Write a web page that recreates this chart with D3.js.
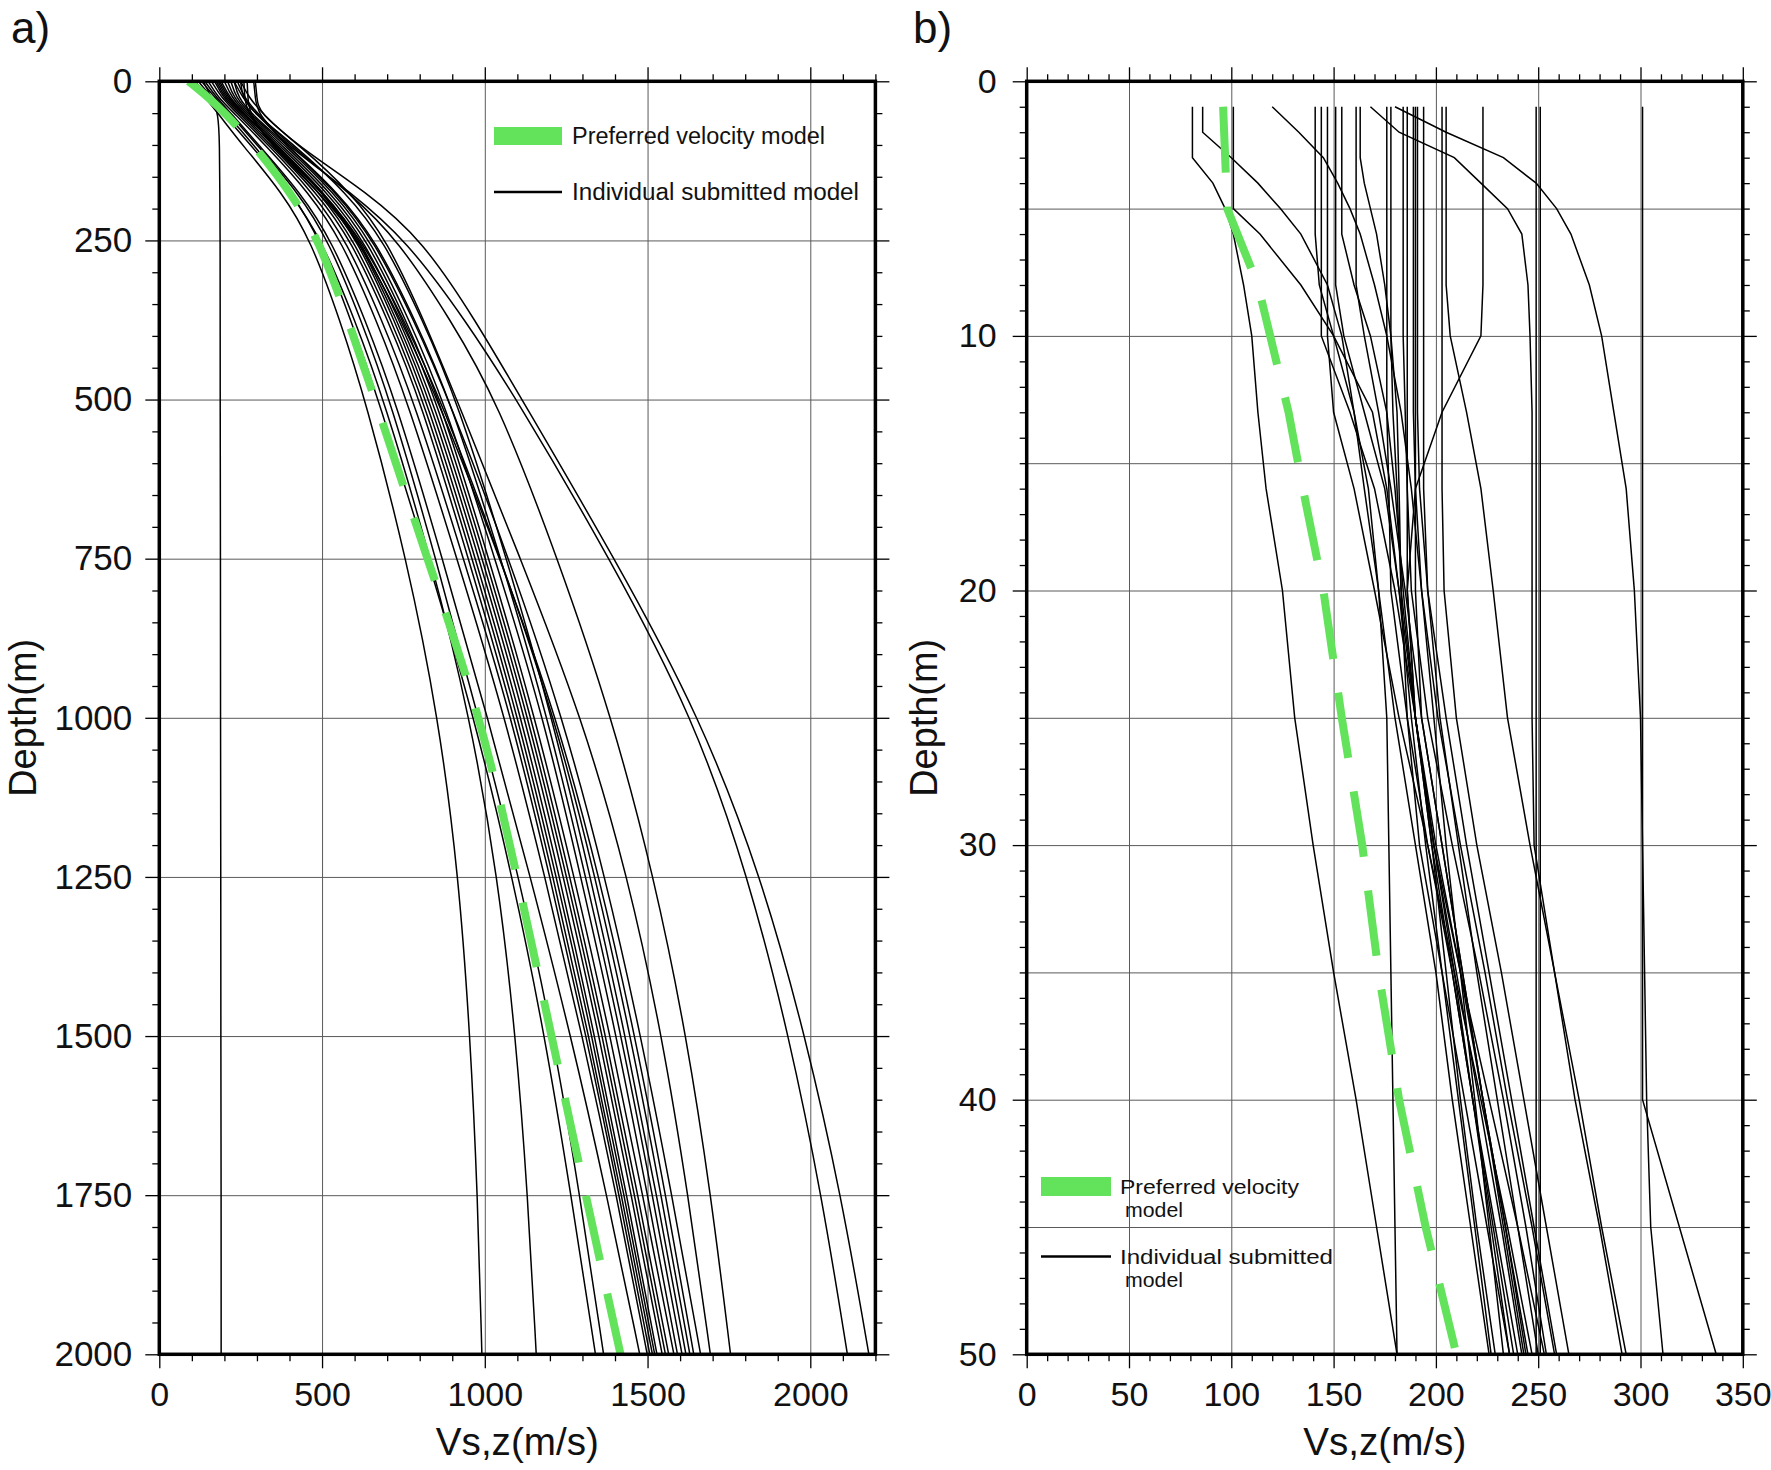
<!DOCTYPE html>
<html><head><meta charset="utf-8">
<script src="https://cdn.jsdelivr.net/npm/d3@7"></script>
<style>body{margin:0;background:#fff}svg{display:block}</style>
</head><body>
<svg id="c" width="1771" height="1470"></svg>
<script>
// ---------- Panel a data (depth in m, Vs in m/s) ----------
const depthsA = [0, 25, 50, 100, 175, 250, 375, 500, 750, 1000, 1250, 1500, 1750, 2000];
const preferredA = [90, 150, 203, 290, 405, 491, 580, 663, 823, 989, 1100, 1205, 1310, 1417];
const modelsA = [
  [135, 160, 182, 185, 186, 187, 187, 187, 188, 188, 189, 189, 190, 190],
  [100, 140, 180, 255, 378, 466, 555, 633, 760, 858, 920, 955, 978, 991],
  [110, 150, 195, 280, 405, 500, 601, 690, 835, 955, 1040, 1095, 1132, 1158],
  [120, 160, 205, 290, 408, 495, 589, 673, 825, 968, 1085, 1185, 1265, 1340],
  [130, 170, 215, 300, 427, 520, 620, 709, 850, 981, 1105, 1210, 1292, 1365],
  [140, 175, 220, 305, 434, 530, 633, 725, 870, 1009, 1140, 1265, 1375, 1476],
  [150, 180, 230, 325, 460, 560, 667, 761, 915, 1063, 1185, 1300, 1405, 1499],
  [160, 190, 238, 335, 472, 575, 684, 781, 935, 1083, 1200, 1312, 1413, 1507],
  [170, 195, 245, 342, 484, 590, 702, 802, 950, 1093, 1210, 1320, 1420, 1515],
  [175, 200, 250, 350, 494, 600, 712, 812, 962, 1103, 1220, 1330, 1428, 1522],
  [180, 205, 255, 358, 503, 610, 722, 822, 972, 1113, 1230, 1338, 1436, 1529],
  [185, 210, 258, 360, 506, 615, 730, 832, 983, 1124, 1242, 1352, 1450, 1545],
  [190, 215, 260, 360, 508, 620, 738, 842, 993, 1134, 1252, 1362, 1460, 1555],
  [200, 222, 265, 368, 518, 630, 748, 852, 1003, 1144, 1262, 1372, 1470, 1565],
  [210, 228, 270, 376, 528, 640, 758, 862, 1013, 1155, 1275, 1386, 1485, 1581],
  [220, 235, 275, 385, 538, 650, 768, 873, 1032, 1181, 1295, 1405, 1500, 1592],
  [230, 242, 280, 392, 550, 665, 786, 894, 1050, 1194, 1310, 1420, 1515, 1606],
  [250, 255, 290, 415, 575, 690, 809, 914, 1068, 1207, 1325, 1432, 1528, 1618],
  [260, 262, 270, 345, 505, 625, 752, 865, 1050, 1215, 1340, 1448, 1542, 1630],
  [270, 272, 276, 340, 495, 615, 743, 856, 1048, 1222, 1352, 1462, 1556, 1642],
  [290, 295, 300, 390, 545, 660, 782, 890, 1075, 1240, 1370, 1480, 1575, 1663],
  [295, 300, 305, 430, 590, 700, 813, 914, 1110, 1299, 1440, 1545, 1625, 1693],
  [240, 260, 300, 400, 585, 735, 895, 1037, 1225, 1391, 1520, 1620, 1695, 1755],
  [230, 255, 295, 390, 590, 760, 940, 1099, 1385, 1642, 1810, 1935, 2035, 2114],
  [250, 275, 315, 420, 640, 809, 971, 1114, 1400, 1663, 1850, 1985, 2095, 2180]
];
const xTicksA = [0, 500, 1000, 1500, 2000];
const yTicksA = [0, 250, 500, 750, 1000, 1250, 1500, 1750, 2000];

// ---------- Panel b data ----------
const depthsB = [1, 2, 3, 4, 5, 6, 8, 10, 13, 16, 20, 25, 30, 35, 40, 45, 50];
const preferredB = [96, 96.5, 97, 97.5, 98, 103, 113, 119, 128, 135, 145, 154, 164, 172, 182, 195, 210];
const modelsB = [
  [81, 81, 81, 91, 97, 101, 106, 110, 113, 117, 125, 131, 140, 150, 161, 171, 181],
  [86, 86, 100, 113, 124, 134, 147, 154, 160, 165, 172, 180, 190, 200, 208, 217, 226],
  [101, 101, 101, 101, 101, 114, 134, 150, 169, 176, 182, 188, 195, 203, 211, 219, 227],
  [120, 133, 145, 152, 158, 163, 170, 176, 183, 188, 193, 199, 205, 212, 219, 226, 233],
  [141, 141, 141, 141, 141, 141, 143, 150, 160, 167, 172, 176, 177, 178, 179, 180, 181],
  [144, 144, 144, 144, 144, 144, 144, 144, 158, 170, 180, 190, 198, 205, 212, 220, 229],
  [147, 147, 147, 147, 147, 147, 147, 147, 150, 160, 170, 182, 196, 208, 218, 227, 236],
  [151, 151, 151, 151, 151, 151, 151, 155, 165, 175, 182, 190, 198, 208, 218, 229, 240],
  [154, 154, 154, 154, 154, 154, 160, 168, 176, 180, 184, 190, 199, 210, 221, 232, 242],
  [161, 161, 161, 161, 161, 161, 161, 165, 172, 178, 185, 193, 203, 213, 223, 234, 244],
  [163, 163, 163, 165, 168, 171, 175, 178, 181, 182, 183, 186, 192, 203, 214, 225, 236],
  [176, 176, 176, 176, 176, 176, 176, 176, 176, 177, 178, 186, 196, 209, 222, 235, 247],
  [178, 178, 178, 178, 178, 178, 178, 178, 179, 181, 183, 190, 199, 209, 218, 228, 238],
  [184, 184, 184, 184, 184, 184, 184, 184, 185, 186, 188, 196, 208, 221, 233, 244, 254],
  [186, 186, 186, 186, 186, 186, 186, 186, 186, 186, 186, 190, 200, 212, 223, 234, 245],
  [189, 189, 189, 189, 189, 189, 189, 189, 189, 190, 193, 201, 212, 224, 235, 247, 258],
  [190, 190, 190, 190, 190, 190, 190, 190, 190, 190, 190, 193, 203, 213, 223, 233, 243],
  [191, 191, 191, 191, 191, 191, 191, 191, 191, 192, 196, 205, 215, 226, 237, 248, 259],
  [194, 194, 194, 194, 194, 194, 194, 194, 194, 194, 196, 202, 211, 220, 230, 240, 250],
  [203, 203, 203, 203, 203, 203, 203, 203, 203, 203, 204, 210, 220, 232, 243, 254, 265],
  [205, 205, 205, 205, 205, 205, 205, 207, 215, 222, 228, 235, 246, 258, 268, 280, 291],
  [168, 182, 209, 222, 235, 242, 245, 246, 247, 247, 247, 247, 248, 258, 270, 281, 293],
  [180, 205, 233, 249, 259, 266, 275, 281, 287, 293, 297, 300, 301, 302, 303, 305, 311],
  [223, 223, 223, 223, 223, 223, 223, 222, 203, 190, 186, 190, 199, 212, 226, 240, 253],
  [249, 249, 249, 249, 249, 249, 249, 249, 249, 249, 249, 249, 249, 249, 249, 249, 249],
  [251, 251, 251, 251, 251, 251, 251, 251, 251, 251, 251, 251, 251, 251, 251, 251, 251],
  [301, 301, 301, 301, 301, 301, 301, 301, 301, 301, 301, 301, 301, 301, 301, 319, 337]
];
const xTicksB = [0, 50, 100, 150, 200, 250, 300, 350];
const yTicksB = [0, 10, 20, 30, 40, 50];

const panelLabels = ["a)", "b)"];
const xTitle = "Vs,z(m/s)";
const yTitle = "Depth(m)";
const legendA = ["Preferred velocity model", "Individual submitted model"];
const legendB = [["Preferred velocity", "model"], ["Individual submitted", "model"]];

// ---------- drawing ----------
const GREEN = "#63e25b";
const FONT = "'Liberation Sans', Arial, Helvetica, sans-serif";
const svg = d3.select("#c");
svg.append("rect").attr("width", 1771).attr("height", 1470).attr("fill", "#fff");

function range(a, b, s) { const r = []; for (let v = a; v <= b + 1e-9; v += s) r.push(+v.toFixed(6)); return r; }

function panel(cfg) {
  const x = d3.scaleLinear().domain(cfg.xDomain).range([cfg.left, cfg.right]);
  const y = d3.scaleLinear().domain(cfg.yDomain).range([cfg.top, cfg.bottom]);
  const w = cfg.right - cfg.left, h = cfg.bottom - cfg.top;
  const g = svg.append("g");
  const styleGrid = s => { s.select(".domain").remove(); s.selectAll("line").attr("stroke", "#5a5a5a").attr("stroke-width", 1); };
  // grid
  g.append("g").attr("transform", `translate(0,${cfg.top})`)
    .call(d3.axisTop(x).tickValues(cfg.xGrid).tickSize(-h).tickFormat("")).call(styleGrid);
  g.append("g").attr("transform", `translate(${cfg.left},0)`)
    .call(d3.axisLeft(y).tickValues(cfg.yGrid).tickSize(-w).tickFormat("")).call(styleGrid);

  // clip
  const cid = "clip" + cfg.id;
  svg.append("clipPath").attr("id", cid).append("rect")
    .attr("x", cfg.left).attr("y", cfg.top).attr("width", w).attr("height", h);
  const cg = g.append("g").attr("clip-path", `url(#${cid})`);
  const line = d3.line().x(d => x(d[0])).y(d => y(d[1])).curve(cfg.curve);
  const toPts = arr => arr.map((v, i) => [v, cfg.depths[i]]);
  cg.selectAll("path.m").data(cfg.models).join("path").attr("class", "m")
    .attr("d", m => line(toPts(m))).attr("fill", "none").attr("stroke", "#000").attr("stroke-width", 1.5);
  cg.append("path").attr("d", line(toPts(cfg.preferred))).attr("fill", "none")
    .attr("stroke", GREEN).attr("stroke-width", 8).attr("stroke-dasharray", "66 34");

  // ticks on all sides
  const styleTick = s => { s.select(".domain").remove(); s.selectAll("line").attr("stroke", "#000").attr("stroke-width", 1.3); };
  const xMinor = range(cfg.xDomain[0], cfg.xDomain[1], cfg.xMinorStep).filter(v => !cfg.xGrid.includes(v) && !cfg.xLabels.includes(v));
  const yMinor = range(cfg.yDomain[0], cfg.yDomain[1], cfg.yMinorStep).filter(v => !cfg.yLabels.includes(v));
  const xMajorTicks = Array.from(new Set(cfg.xLabels.concat(cfg.xGrid)));
  [["axisTop", cfg.top], ["axisBottom", cfg.bottom]].forEach(([fn, pos]) => {
    g.append("g").attr("transform", `translate(0,${pos})`).call(d3[fn](x).tickValues(xMajorTicks).tickSize(14).tickFormat("")).call(styleTick);
    g.append("g").attr("transform", `translate(0,${pos})`).call(d3[fn](x).tickValues(xMinor).tickSize(7).tickFormat("")).call(styleTick);
  });
  [["axisLeft", cfg.left], ["axisRight", cfg.right]].forEach(([fn, pos]) => {
    g.append("g").attr("transform", `translate(${pos},0)`).call(d3[fn](y).tickValues(cfg.yLabels).tickSize(14).tickFormat("")).call(styleTick);
    g.append("g").attr("transform", `translate(${pos},0)`).call(d3[fn](y).tickValues(yMinor).tickSize(7).tickFormat("")).call(styleTick);
  });
  // frame
  g.append("rect").attr("x", cfg.left).attr("y", cfg.top).attr("width", w).attr("height", h)
    .attr("fill", "none").attr("stroke", "#000").attr("stroke-width", 3.5);

  // labels
  const xl = g.append("g").attr("transform", `translate(0,${cfg.bottom})`)
    .call(d3.axisBottom(x).tickValues(cfg.xLabels).tickSize(0).tickPadding(28).tickFormat(d3.format("d")));
  xl.select(".domain").remove();
  xl.selectAll("text").attr("font-family", FONT).attr("font-size", 34).attr("fill", "#111");
  const yl = g.append("g").attr("transform", `translate(${cfg.left},0)`)
    .call(d3.axisLeft(y).tickValues(cfg.yLabels).tickSize(0).tickPadding(cfg.yPad).tickFormat(d3.format("d")));
  yl.select(".domain").remove();
  yl.selectAll("text").attr("font-family", FONT).attr("font-size", cfg.yFont).attr("fill", "#111");

  // titles
  g.append("text").attr("x", (cfg.left + cfg.right) / 2).attr("y", 1455).attr("text-anchor", "middle")
    .attr("font-family", FONT).attr("font-size", 38).attr("fill", "#111")
    .attr("textLength", 163).attr("lengthAdjust", "spacingAndGlyphs").text(xTitle);
  g.append("text").attr("transform", `translate(${cfg.yTitleX},${(cfg.top + cfg.bottom) / 2}) rotate(-90)`)
    .attr("text-anchor", "middle").attr("font-family", FONT).attr("font-size", 38).attr("fill", "#111")
    .attr("textLength", 158).attr("lengthAdjust", "spacingAndGlyphs").text(yTitle);
  g.append("text").attr("x", cfg.labelX).attr("y", 43).attr("font-family", FONT).attr("font-size", 44)
    .attr("fill", "#111").text(cfg.label);
  return g;
}

panel({
  id: "A", left: 159.3, right: 875.4, top: 81.3, bottom: 1354.3,
  xDomain: [0, 2200], yDomain: [0, 2000], xGrid: [500, 1000, 1500, 2000], yGrid: yTicksA,
  xLabels: xTicksA, yLabels: yTicksA, xMinorStep: 100, yMinorStep: 50,
  depths: depthsA, models: modelsA, preferred: preferredA, curve: d3.curveBasis,
  yPad: 27, yFont: 35, yTitleX: 36, label: panelLabels[0], labelX: 11
});
panel({
  id: "B", left: 1026.7, right: 1742.8, top: 81.3, bottom: 1354.3,
  xDomain: [0, 350], yDomain: [0, 50], xGrid: [50, 100, 150, 200, 250, 300], yGrid: range(5, 45, 5),
  xLabels: xTicksB, yLabels: yTicksB, xMinorStep: 10, yMinorStep: 1,
  depths: depthsB, models: modelsB, preferred: preferredB, curve: d3.curveLinear,
  yPad: 30, yFont: 34, yTitleX: 937, label: panelLabels[1], labelX: 913
});

// legends
function txt(g, x, y, s, len, fs) {
  g.append("text").attr("x", x).attr("y", y).attr("font-family", FONT).attr("font-size", fs)
    .attr("fill", "#111").attr("textLength", len).attr("lengthAdjust", "spacingAndGlyphs").text(s);
}
const LA = svg.append("g");
LA.append("rect").attr("x", 494).attr("y", 127).attr("width", 68).attr("height", 18).attr("fill", GREEN);
LA.append("line").attr("x1", 494).attr("x2", 562).attr("y1", 192).attr("y2", 192).attr("stroke", "#000").attr("stroke-width", 2.6);
txt(LA, 572, 144, legendA[0], 253, 23);
txt(LA, 572, 200, legendA[1], 287, 23);

const LB = svg.append("g");
LB.append("rect").attr("x", 1041).attr("y", 1177).attr("width", 70).attr("height", 19).attr("fill", GREEN);
LB.append("line").attr("x1", 1041).attr("x2", 1111).attr("y1", 1256.5).attr("y2", 1256.5).attr("stroke", "#000").attr("stroke-width", 2.6);
txt(LB, 1120, 1194, legendB[0][0], 179, 20);
txt(LB, 1125, 1217, legendB[0][1], 58, 20);
txt(LB, 1120, 1264, legendB[1][0], 213, 20);
txt(LB, 1125, 1287, legendB[1][1], 58, 20);
</script>
</body></html>
